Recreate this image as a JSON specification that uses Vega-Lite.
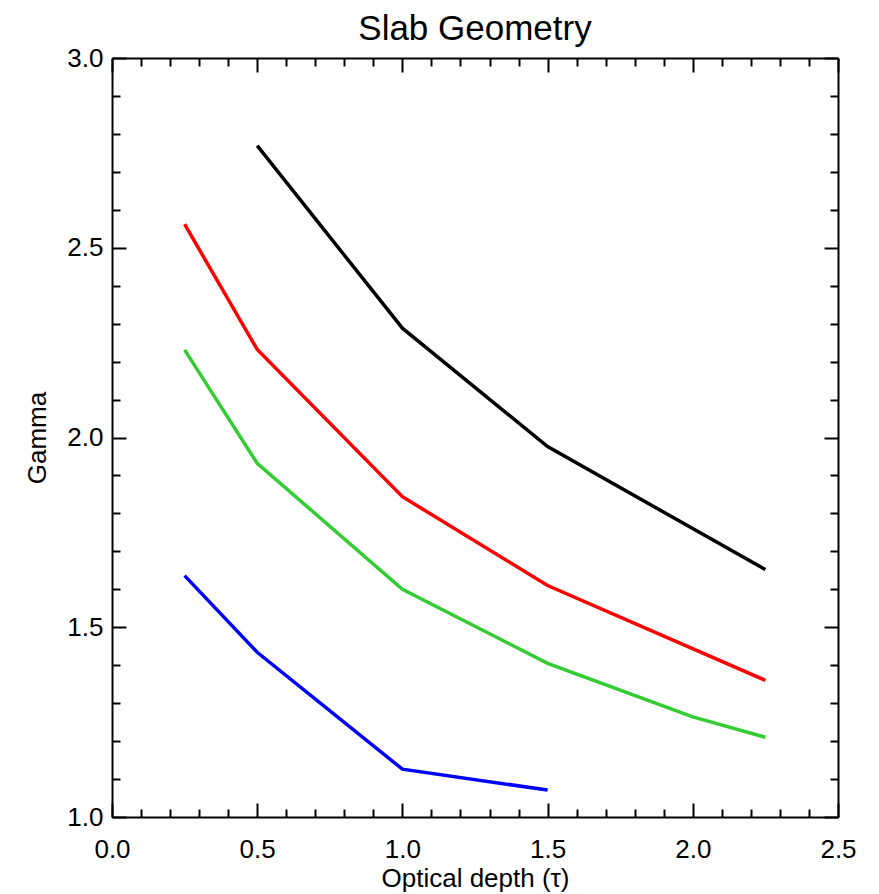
{
  "$schema": "https://vega.github.io/schema/vega-lite/v6.json",
  "width": 726,
  "height": 759,
  "autosize": {"type": "none"},
  "padding": {"left": 112, "top": 58, "right": 41, "bottom": 77},
  "background": "white",
  "title": {"text": "Slab Geometry", "fontSize": 35, "font": "Liberation Sans", "fontWeight": "normal", "color": "black", "anchor": "middle", "offset": -2},
  "config": {
    "view": {"stroke": null},
    "axis": {
      "grid": false,
      "labelFlush": false,
      "labelOverlap": false,
      "labelFont": "Liberation Sans",
      "labelFontSize": 26,
      "labelColor": "black",
      "titleFont": "Liberation Sans",
      "titleFontSize": 26,
      "titleFontWeight": "normal",
      "titleColor": "black",
      "tickColor": "black",
      "tickWidth": 2,
      "domainColor": "black",
      "domainWidth": 2
    }
  },
  "data": {
    "values": [
      {"series": "s1", "tau": 0.5, "gamma": 2.769},
      {"series": "s1", "tau": 1.0, "gamma": 2.288},
      {"series": "s1", "tau": 1.5, "gamma": 1.976},
      {"series": "s1", "tau": 2.25, "gamma": 1.652},
      {"series": "s2", "tau": 0.25, "gamma": 2.562},
      {"series": "s2", "tau": 0.5, "gamma": 2.232},
      {"series": "s2", "tau": 1.0, "gamma": 1.844},
      {"series": "s2", "tau": 1.5, "gamma": 1.61},
      {"series": "s2", "tau": 2.25, "gamma": 1.36},
      {"series": "s3", "tau": 0.25, "gamma": 2.231},
      {"series": "s3", "tau": 0.5, "gamma": 1.932},
      {"series": "s3", "tau": 1.0, "gamma": 1.6},
      {"series": "s3", "tau": 1.5, "gamma": 1.405},
      {"series": "s3", "tau": 2.0, "gamma": 1.264},
      {"series": "s3", "tau": 2.25, "gamma": 1.21},
      {"series": "s4", "tau": 0.25, "gamma": 1.636},
      {"series": "s4", "tau": 0.5, "gamma": 1.434},
      {"series": "s4", "tau": 1.0, "gamma": 1.126},
      {"series": "s4", "tau": 1.5, "gamma": 1.071}
    ]
  },
  "layer": [
    {
      "mark": {"type": "line", "strokeWidth": 3.5, "clip": true},
      "encoding": {
        "x": {"field": "tau", "type": "quantitative", "scale": {"domain": [0, 2.5], "nice": false, "zero": false},
          "axis": {"orient": "bottom", "values": [0, 0.5, 1, 1.5, 2, 2.5], "format": ".1f", "tickSize": -14, "labelPadding": 33, "title": "Optical depth (τ)", "titlePadding": 3}},
        "y": {"field": "gamma", "type": "quantitative", "scale": {"domain": [1, 3], "nice": false, "zero": false},
          "axis": {"orient": "left", "values": [1, 1.5, 2, 2.5, 3], "format": ".1f", "tickSize": -14, "labelPadding": 23, "title": "Gamma", "titlePadding": 16}},
        "color": {"field": "series", "type": "nominal", "legend": null,
          "scale": {"domain": ["s1", "s2", "s3", "s4"], "range": ["#000000", "#ff0000", "#33cc33", "#0000ff"]}}
      }
    },
    {
      "mark": {"type": "point", "opacity": 0},
      "encoding": {
        "x": {"field": "tau", "type": "quantitative",
          "axis": {"orient": "bottom", "values": [0.1, 0.2, 0.3, 0.4, 0.6, 0.7, 0.8, 0.9, 1.1, 1.2, 1.3, 1.4, 1.6, 1.7, 1.8, 1.9, 2.1, 2.2, 2.3, 2.4], "labels": false, "domain": false, "tickSize": -8, "title": null}},
        "y": {"field": "gamma", "type": "quantitative",
          "axis": {"orient": "left", "values": [1.1, 1.2, 1.3, 1.4, 1.6, 1.7, 1.8, 1.9, 2.1, 2.2, 2.3, 2.4, 2.6, 2.7, 2.8, 2.9], "labels": false, "domain": false, "tickSize": -8, "title": null}}
      }
    },
    {
      "mark": {"type": "point", "opacity": 0},
      "encoding": {
        "x": {"field": "tau", "type": "quantitative",
          "axis": {"orient": "top", "values": [0, 0.5, 1, 1.5, 2, 2.5], "labels": false, "tickSize": -14, "title": null}},
        "y": {"field": "gamma", "type": "quantitative",
          "axis": {"orient": "right", "values": [1, 1.5, 2, 2.5, 3], "labels": false, "tickSize": -14, "title": null}}
      }
    },
    {
      "mark": {"type": "point", "opacity": 0},
      "encoding": {
        "x": {"field": "tau", "type": "quantitative",
          "axis": {"orient": "top", "values": [0.1, 0.2, 0.3, 0.4, 0.6, 0.7, 0.8, 0.9, 1.1, 1.2, 1.3, 1.4, 1.6, 1.7, 1.8, 1.9, 2.1, 2.2, 2.3, 2.4], "labels": false, "domain": false, "tickSize": -8, "title": null}},
        "y": {"field": "gamma", "type": "quantitative",
          "axis": {"orient": "right", "values": [1.1, 1.2, 1.3, 1.4, 1.6, 1.7, 1.8, 1.9, 2.1, 2.2, 2.3, 2.4, 2.6, 2.7, 2.8, 2.9], "labels": false, "domain": false, "tickSize": -8, "title": null}}
      }
    }
  ],
  "resolve": {"axis": {"x": "independent", "y": "independent"}}
}
